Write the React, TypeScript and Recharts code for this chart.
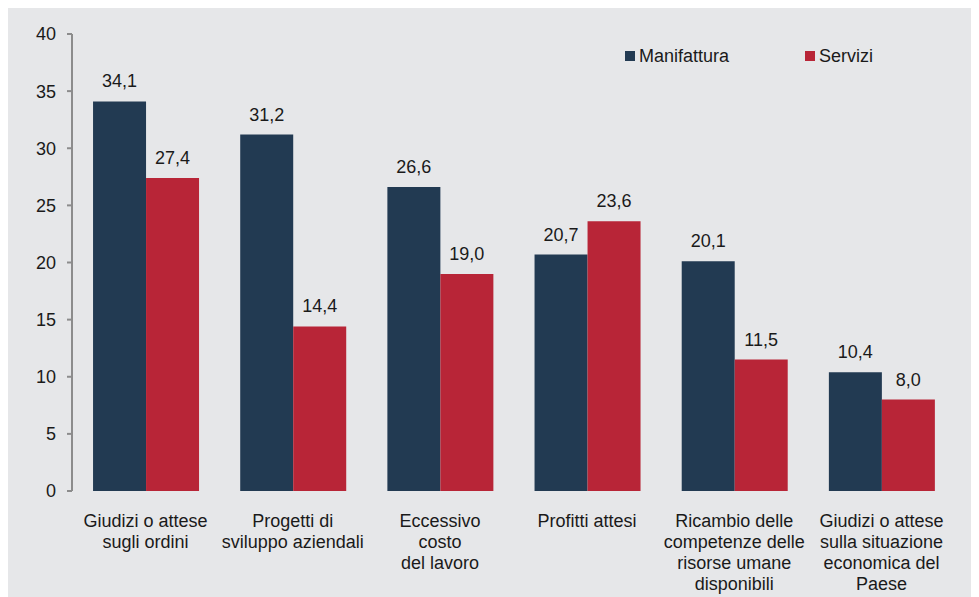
import { BarChart, Bar, XAxis, YAxis, LabelList, Legend } from "recharts";

const categories = [
  "Giudizi o attese\nsugli ordini",
  "Progetti di\nsviluppo aziendali",
  "Eccessivo\ncosto\ndel lavoro",
  "Profitti attesi",
  "Ricambio delle\ncompetenze delle\nrisorse umane\ndisponibili",
  "Giudizi o attese\nsulla situazione\neconomica del\nPaese",
];
const manifattura = [34.1, 31.2, 26.6, 20.7, 20.1, 10.4];
const servizi = [27.4, 14.4, 19.0, 23.6, 11.5, 8.0];
const yTicks = [0, 5, 10, 15, 20, 25, 30, 35, 40];
const edgeTicks = [0, 1, 2, 3, 4, 5, 6];

const NAVY = "#223a52";
const RED = "#b82537";
const AXIS = "#8c8c8c";
const TEXT = "#1a1a1a";
const FONT = "'Liberation Sans', Arial, sans-serif";
const FS = 18;

const data = categories.map((name, i) => ({
  name,
  manifattura: manifattura[i],
  servizi: servizi[i],
}));

const fmt = (v: number) => v.toFixed(1).replace(".", ",");

const CategoryTick = (props: any) => {
  const { x, y, payload } = props;
  const lines = String(payload.value).split("\n");
  return (
    <text x={x} y={y + 28} textAnchor="middle" fill={TEXT} fontSize={FS} fontFamily={FONT}>
      {lines.map((l, i) => (
        <tspan key={i} x={x} dy={i === 0 ? 0 : 21}>
          {l}
        </tspan>
      ))}
    </text>
  );
};

const LegendContent = () => (
  <div style={{ display: "flex", fontFamily: FONT, fontSize: FS, color: TEXT, lineHeight: "20px" }}>
    {[
      { label: "Manifattura", color: NAVY, w: 180 },
      { label: "Servizi", color: RED, w: 80 },
    ].map((it) => (
      <div key={it.label} style={{ display: "flex", alignItems: "center", width: it.w }}>
        <span style={{ width: 10, height: 10, background: it.color, marginRight: 4 }} />
        <span>{it.label}</span>
      </div>
    ))}
  </div>
);

export default function App() {
  return (
    <div style={{ width: 971, height: 589, background: "#e6e7e9" }}>
      <BarChart
        width={971}
        height={589}
        data={data}
        margin={{ top: 26, right: 24, left: 8, bottom: 0 }}
        barCategoryGap="14.3%"
        barGap={0}
      >
        <XAxis
          xAxisId="edge"
          type="number"
          domain={[0, 6]}
          ticks={edgeTicks}
          height={0}
          tick={false}
          tickSize={5}
          axisLine={{ stroke: AXIS, strokeWidth: 2 }}
          tickLine={{ stroke: AXIS, strokeWidth: 2 }}
        />
        <XAxis
          xAxisId="cat"
          dataKey="name"
          height={106}
          axisLine={false}
          tickLine={false}
          interval={0}
          tick={<CategoryTick />}
        />
        <YAxis
          domain={[0, 40]}
          ticks={yTicks}
          width={56}
          tickSize={5}
          tickMargin={11}
          axisLine={{ stroke: AXIS, strokeWidth: 2 }}
          tickLine={{ stroke: AXIS, strokeWidth: 2 }}
          tick={{ fill: TEXT, fontSize: FS, fontFamily: FONT }}
        />
        <Legend
          layout="horizontal"
          verticalAlign="middle"
          align="center"
          content={<LegendContent />}
          wrapperStyle={{ top: 38, left: 617, width: "auto" }}
        />
        <Bar xAxisId="cat" dataKey="manifattura" name="Manifattura" fill={NAVY} isAnimationActive={false}>
          <LabelList dataKey="manifattura" position="top" offset={14} formatter={(v: any) => fmt(Number(v))} fill={TEXT} fontSize={FS} fontFamily={FONT} />
        </Bar>
        <Bar xAxisId="cat" dataKey="servizi" name="Servizi" fill={RED} isAnimationActive={false}>
          <LabelList dataKey="servizi" position="top" offset={14} formatter={(v: any) => fmt(Number(v))} fill={TEXT} fontSize={FS} fontFamily={FONT} />
        </Bar>
      </BarChart>
    </div>
  );
}
